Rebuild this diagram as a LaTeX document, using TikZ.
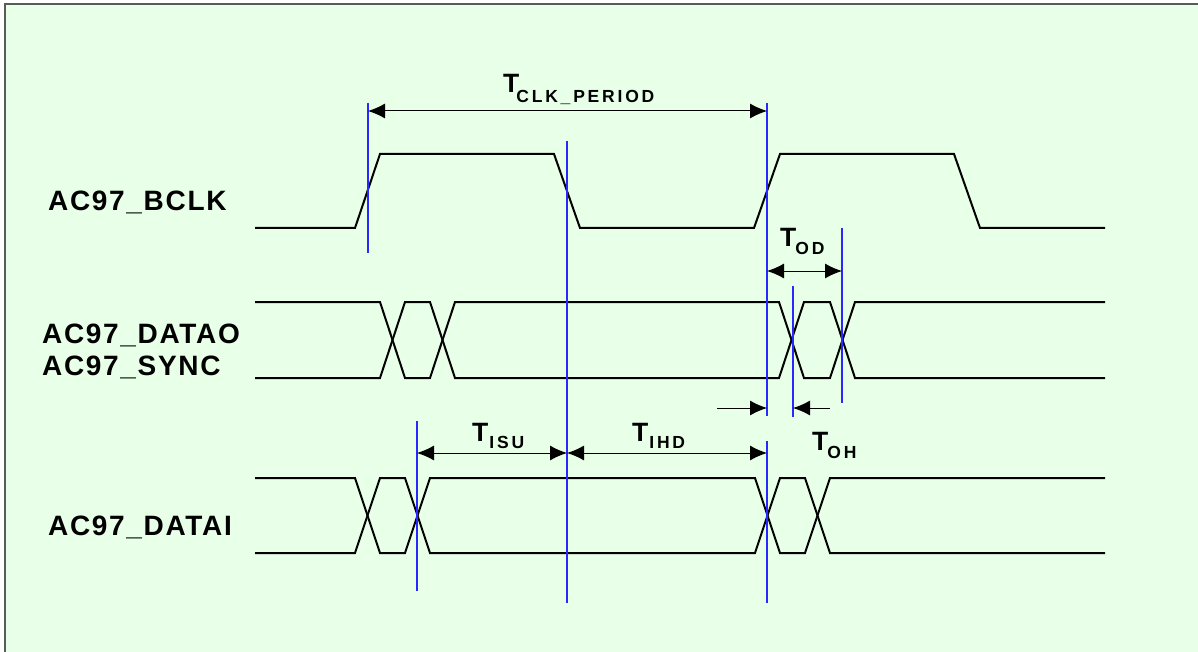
\documentclass[tikz,border=0pt]{standalone}
\usepackage{fontspec}
\setmainfont{Liberation Sans}
\newfontfamily\sigfont[LetterSpace=6]{Liberation Sans Bold}
\newfontfamily\subfont[LetterSpace=16]{Liberation Sans Bold}
\newfontfamily\tfont{Liberation Sans Bold}
\usetikzlibrary{arrows.meta}
\definecolor{bg}{RGB}{232,255,232}
\definecolor{guideblue}{RGB}{40,40,255}
\definecolor{framegray}{RGB}{90,90,90}
\begin{document}
\begin{tikzpicture}[x=1pt,y=-1pt,
  sig/.style={line width=2pt, line join=miter},
  guide/.style={guideblue, line width=1.2pt},
  dim/.style={line width=1pt, {Latex[length=17pt,width=15pt]}-{Latex[length=17pt,width=15pt]}},
  dimr/.style={line width=1pt, -{Latex[length=17pt,width=15pt]}},
  signame/.style={anchor=base west, inner sep=0pt, font=\fontsize{28}{30}\sigfont},
  tlabel/.style={anchor=base west, inner sep=0pt, font=\fontsize{26.5}{28}\tfont}]
\useasboundingbox (0,0) rectangle (1198,652);
\clip (0,0) rectangle (1198,652);
\fill[white] (0,0) rectangle (1198,652);
\draw[framegray, line width=1.5pt, fill=bg] (5,4) rectangle (1230,690);

% signal names
\node[signame] (nbclk) at (48,211) {AC97\_BCLK};
\node[signame] (ndatao) at (42,343) {AC97\_DATAO};
\node[signame] (nsync) at (42,375) {AC97\_SYNC};
\node[signame] (ndatai) at (48,535) {AC97\_DATAI};

% clock
\draw[sig] (255,228) -- (355,228) -- (380,154) -- (554,154) -- (580,228) -- (754,228)
  -- (780,154) -- (954,154) -- (980,228) -- (1105,228);

% DATAO / SYNC bus
\draw[sig] (255,302) -- (380,302) -- (405,378) -- (430,378) -- (455,302) -- (779,302)
  -- (804,378) -- (830,378) -- (855,302) -- (1105,302);
\draw[sig] (255,378) -- (380,378) -- (405,302) -- (430,302) -- (455,378) -- (779,378)
  -- (804,302) -- (830,302) -- (855,378) -- (1105,378);

% DATAI bus
\draw[sig] (255,478) -- (355,478) -- (380,553) -- (405,553) -- (430,478) -- (755,478)
  -- (780,553) -- (805,553) -- (830,478) -- (1105,478);
\draw[sig] (255,553) -- (355,553) -- (380,478) -- (405,478) -- (430,553) -- (755,553)
  -- (780,478) -- (805,478) -- (830,553) -- (1105,553);

% guide lines
\draw[guide] (368,103) -- (368,253);
\draw[guide] (567,141) -- (567,603);
\draw[guide] (767,103) -- (767,416);
\draw[guide] (767,441) -- (767,603);
\draw[guide] (793,286) -- (793,417);
\draw[guide] (842,228) -- (842,403);
\draw[guide] (417,421) -- (417,591);

% dimension anchor points
\coordinate (p1) at (368,111);
\coordinate (p2) at (767,111);
\coordinate (p3) at (767,271);
\coordinate (p4) at (842,271);
\coordinate (p5) at (417,453);
\coordinate (p6) at (567,453);
\coordinate (p7) at (767,453);
\coordinate (q1) at (717,408);
\coordinate (q2) at (767,408);
\coordinate (q3) at (830,408);
\coordinate (q4) at (793,408);

\draw[dim] (p1) -- (p2);
\draw[dim] (p3) -- (p4);
\draw[dim] (p5) -- (p6);
\draw[dim] (p6) -- (p7);
\draw[dimr] (q1) -- (q2);
\draw[dimr] (q3) -- (q4);

% timing labels
\node[tlabel] (tclk) at (503,93) {T\kern-3pt\raisebox{-10pt}{\fontsize{17.5}{16}\subfont CLK\_PERIOD}};
\node[tlabel] (tod) at (780,247) {T\kern-1pt\raisebox{-8pt}{\fontsize{17.5}{16}\subfont OD}};
\node[tlabel] (toh) at (812,450) {T\kern-1pt\raisebox{-8pt}{\fontsize{17.5}{16}\subfont OH}};
\node[tlabel] (tisu) at (472,441) {T\kern1pt\raisebox{-7pt}{\fontsize{17.5}{16}\subfont ISU}};
\node[tlabel] (tihd) at (632,441) {T\kern1pt\raisebox{-7pt}{\fontsize{17.5}{16}\subfont IHD}};
\end{tikzpicture}
\end{document}
